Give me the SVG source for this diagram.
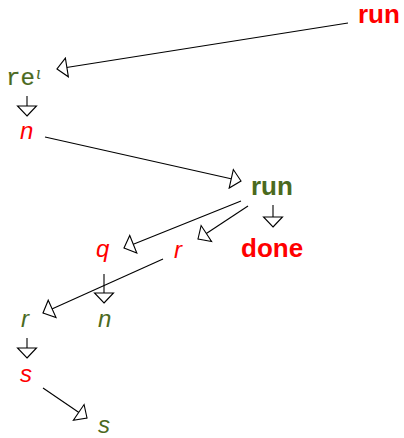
<svg xmlns="http://www.w3.org/2000/svg" width="404" height="438" viewBox="0 0 404 438">
<defs>
<style>
.b{font-family:"Liberation Sans",Arial,sans-serif;font-weight:bold;font-size:26px}
.i{font-family:"Liberation Sans",Arial,sans-serif;font-style:italic;font-size:24px}
.m{font-family:"Liberation Mono","Courier New",monospace;font-size:24px;stroke:#4b6a1e;stroke-width:0.2}
.red{fill:#ff0000}
.grn{fill:#4b6a1e}
.e{stroke:#000;stroke-width:1.1;fill:none;marker-end:url(#ah)}
</style>
<marker id="ah" markerUnits="userSpaceOnUse" markerWidth="14" markerHeight="22" viewBox="-1 -11 14 22" refX="10" refY="0" orient="auto">
<path d="M10,0 L0,-9.5 L0,9.5 Z" fill="#fff" stroke="#000" stroke-width="1.1" stroke-linejoin="miter"/>
</marker>
</defs>
<g id="connectors">
<path class="e" d="M348,23 L57,69"/>
<path class="e" d="M27,96 L27,116"/>
<path class="e" d="M45,137 L241,181"/>
<path class="e" d="M273,205 L273,227"/>
<path class="e" d="M241,201 L124,248"/>
<path class="e" d="M248,206 L198,239"/>
<path class="e" d="M163,259 L43,313"/>
<path class="e" d="M104,274 L104,303"/>
<path class="e" d="M27,338 L27,358"/>
<path class="e" d="M43,388 L87,418"/>
</g>
<g id="n-run-top"><text class="b red" x="358" y="23">run</text></g>
<g id="n-re"><text class="m grn" x="6" y="85">re</text><text class="grn" x="36" y="79" style="font-family:'Liberation Serif',serif;font-style:italic;font-size:18px">ι</text></g>
<g id="n-n1"><text class="i red" x="20" y="139">n</text></g>
<g id="n-run-mid"><text class="b grn" x="251" y="195">run</text></g>
<g id="n-done"><text class="b red" x="241" y="257">done</text></g>
<g id="n-q"><text class="i red" x="96" y="257">q</text></g>
<g id="n-r1"><text class="i red" x="174" y="258">r</text></g>
<g id="n-n2"><text class="i grn" x="98" y="327">n</text></g>
<g id="n-r2"><text class="i grn" x="21" y="327">r</text></g>
<g id="n-s1"><text class="i red" x="20" y="382">s</text></g>
<g id="n-s2"><text class="i grn" x="98" y="433">s</text></g>
</svg>
